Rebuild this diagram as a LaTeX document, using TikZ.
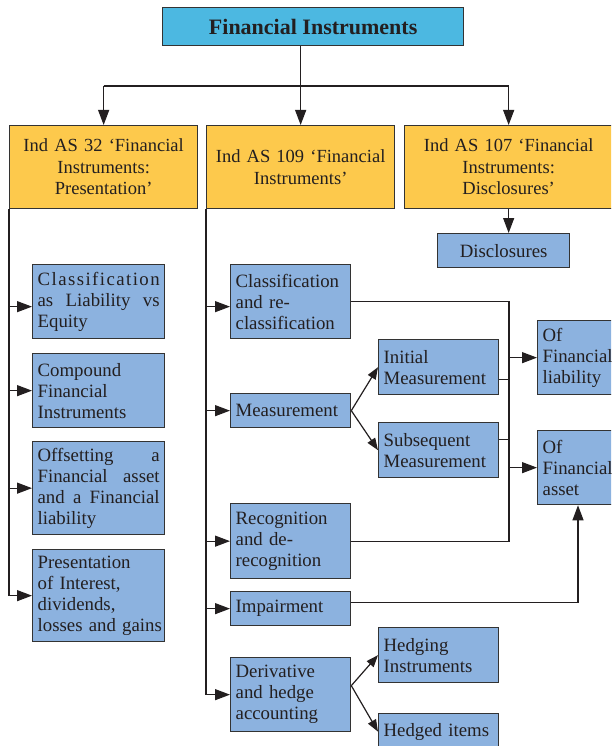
\documentclass[tikz,border=0pt]{standalone}
\usepackage{fontspec}
\setmainfont{Liberation Serif}
\usetikzlibrary{arrows.meta}
\definecolor{topc}{HTML}{4CB8E1}
\definecolor{yelc}{HTML}{FDC94C}
\definecolor{bluc}{HTML}{8CB2DF}
\definecolor{edgec}{HTML}{333333}
\definecolor{txtc}{HTML}{231F20}
\newcommand\fl[1]{\makebox[\hsize][s]{#1}}
\begin{document}
\begin{tikzpicture}[x=1pt,y=-1pt,
 box/.style={draw=edgec, line width=1.3pt, anchor=north west, inner xsep=5pt, inner ysep=0pt, text=txtc},
 ybox/.style={box, fill=yelc, align=center, font=\fontsize{18.5}{21.5}\selectfont},
 bbox/.style={box, fill=bluc, align=left, font=\fontsize{18.8}{21}\selectfont},
 conn/.style={draw=txtc, line width=1.2pt},
 arr/.style={conn, -{Triangle[length=15pt,width=11pt]}},
 sarr/.style={conn, -{Triangle[length=12pt,width=9pt]}}]
\useasboundingbox (0,0) rectangle (611,746);
\clip (0,0) rectangle (611,746);

\node[box, fill=topc, minimum width=301, minimum height=38, font=\bfseries\fontsize{22}{24}\selectfont] (top) at (162,7) {Financial Instruments};

\node[ybox, minimum width=188, minimum height=83, text width=178] (y1) at (9,125) {Ind AS 32 ‘Financial\\ Instruments:\\ Presentation’};
\node[ybox, minimum width=188, minimum height=83, text width=178] (y2) at (206,125) {Ind AS 109 ‘Financial\\ Instruments’};
\node[ybox, minimum width=208, minimum height=83, text width=198] (y3) at (404,125) {Ind AS 107 ‘Financial\\ Instruments:\\ Disclosures’};

\node[bbox, align=center, minimum width=132, minimum height=34, text width=122] (disc) at (437,233) {Disclosures};

\node[bbox, minimum width=132, minimum height=74, text width=122] (b1) at (32,264) {\fl{C\hfill l\hfill a\hfill s\hfill s\hfill i\hfill f\hfill i\hfill c\hfill a\hfill t\hfill i\hfill o\hfill n}\\ \fl{as\hfill Liability\hfill vs}\\ Equity};
\node[bbox, minimum width=132, minimum height=74, text width=122] (b2) at (32,353) {Compound\\ Financial\\ Instruments};
\node[bbox, minimum width=132, minimum height=93, text width=122] (b3) at (32,441) {\fl{Offsetting\hfill a}\\ \fl{Financial\hfill asset}\\ \fl{and\hfill a\hfill Financial}\\ liability};
\node[bbox, minimum width=132, minimum height=92, text width=122] (b4) at (32,549) {Presentation\\ of Interest,\\ dividends,\\ \mbox{losses and gains}};

\node[bbox, minimum width=120, minimum height=74, text width=110] (m1) at (230,264) {Classification\\ and re-\\ classification};
\node[bbox, minimum width=120, minimum height=34, text width=110] (m2) at (230,393) {Measurement};
\node[bbox, minimum width=120, minimum height=75, text width=110] (m3) at (230,503) {Recognition\\ and de-\\ recognition};
\node[bbox, minimum width=120, minimum height=34, text width=110] (m4) at (230,591) {Impairment};
\node[bbox, minimum width=120, minimum height=74, text width=110] (m5) at (230,657) {Derivative\\ and hedge\\ accounting};

\node[bbox, minimum width=120, minimum height=55, text width=110] (s1) at (378,339) {Initial\\ Measurement};
\node[bbox, minimum width=120, minimum height=55, text width=110] (s2) at (378,422) {Subsequent\\ Measurement};
\node[bbox, minimum width=120, minimum height=55, text width=110] (h1) at (378,627) {Hedging\\ Instruments};
\node[bbox, minimum width=120, minimum height=36, text width=110] (h2) at (378,713) {Hedged items};

\node[bbox, minimum width=90, minimum height=74, text width=80] (r1) at (537,320) {Of\\ Financial\\ liability};
\node[bbox, minimum width=90, minimum height=74, text width=80] (r2) at (537,430) {Of\\ Financial\\ asset};

% helper coordinates
\coordinate (b1a) at ([yshift=-5pt]b1.west);
\coordinate (m1a) at ([yshift=-5pt]m1.west);
\coordinate (s1a) at ([yshift=-12pt]s1.east);
\coordinate (s2a) at ([yshift=11pt]s2.east);
\coordinate (m4a) at ([yshift=6pt]m4.east);
\coordinate (m5a) at ([yshift=9pt]m5.east);
\coordinate (hb) at (300,86);
\coordinate (jx) at (509,0);
\coordinate (ix) at (578,0);

% top-level connectors
\draw[conn] (y1.north |- hb) -- (y3.north |- hb);
\draw[arr] (top.south -| y2.north) -- (y2.north);
\draw[arr] (y1.north |- hb) -- (y1.north);
\draw[arr] (y3.north |- hb) -- (y3.north);
\draw[arr] (y3.south) -- (y3.south |- disc.north);

% left trunk
\draw[arr] (y1.south west) |- (b4.west);
\draw[arr] (y1.south west |- b1a) -- (b1a);
\draw[arr] (y1.south west |- b2.west) -- (b2.west);
\draw[arr] (y1.south west |- b3.west) -- (b3.west);

% middle trunk
\draw[arr] (y2.south west) |- (m5.west);
\draw[arr] (y2.south west |- m1a) -- (m1a);
\draw[arr] (y2.south west |- m2.west) -- (m2.west);
\draw[arr] (y2.south west |- m3.west) -- (m3.west);
\draw[arr] (y2.south west |- m4.west) -- (m4.west);

% measurement and hedge branches
\draw[sarr] (m2.east) -- (s1.west);
\draw[sarr] (m2.east) -- (s2.west);
\draw[sarr] (m5a) -- (h1.west);
\draw[sarr] (m5a) -- (h2.west);

% collector line
\draw[conn] (m1.east) -- (m1.east -| jx) -- (m3.east -| jx) -- (m3.east);
\draw[conn] (s1a) -- (s1a -| jx);
\draw[conn] (s2a) -- (s2a -| jx);
\draw[arr] (r1.west -| jx) -- (r1.west);
\draw[arr] (r2.west -| jx) -- (r2.west);

% impairment
\draw[arr] (m4a) -| (r2.south -| ix);
\end{tikzpicture}
\end{document}
